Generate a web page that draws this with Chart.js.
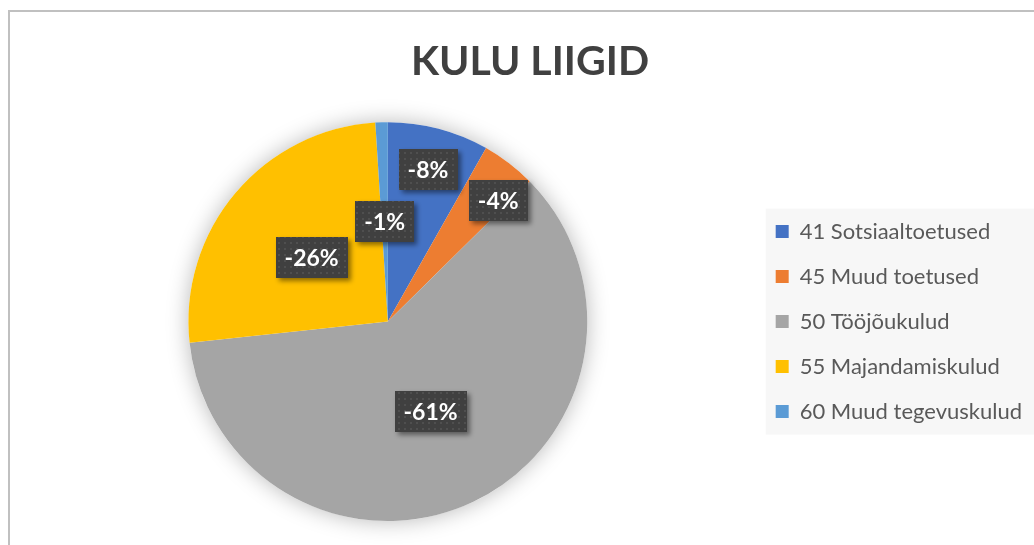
<!DOCTYPE html>
<html>
<head>
<meta charset="utf-8">
<script src="https://cdn.jsdelivr.net/npm/chart.js@4/dist/chart.umd.min.js"></script>
<style>
  body { margin: 0; background: #fff; }
  #wrap { width: 1034px; height: 545px; }
</style>
</head>
<body>
<div id="wrap"><canvas id="kuluChart" width="1034" height="545"></canvas></div>
<script>
// Data
var liigid = ["41 Sotsiaaltoetused", "45 Muud toetused", "50 Tööjõukulud", "55 Majandamiskulud", "60 Muud tegevuskulud"];
var kulud = [-8.2, -4.4, -60.7, -25.7, -1.0];
var varvid = ["#4472C4", "#ED7D31", "#A5A5A5", "#FFC000", "#5B9BD5"];

// label placement along the slice (fraction of radius, angle nudge in degrees)
var labelPos = [
  { r: 0.79, da: 0 },
  { r: 0.82, da: 5 },
  { r: 0.5, da: 0 },
  { r: 0.5, da: 0 },
  { r: 0.5, da: 0 }
];

// dotted dark fill like the excel label boxes
function makePattern() {
  var p = document.createElement("canvas");
  p.width = 6; p.height = 6;
  var c = p.getContext("2d");
  c.fillStyle = "#404040";
  c.fillRect(0, 0, 6, 6);
  c.fillStyle = "#4f4f4f";
  c.fillRect(2, 2, 2, 2);
  return p;
}

//Frame + legend background
var framePlugin = {
  id: "frame",
  afterLayout: function(chart) {
    // excel centers the title over the whole chart frame
    chart.titleBlock.left = 26;
    chart.titleBlock.right = chart.width;
  },
  beforeDraw: function(chart) {
    var ctx = chart.ctx;
    ctx.save();
    ctx.fillStyle = "#fff";
    ctx.fillRect(0, 0, chart.width, chart.height);
    ctx.strokeStyle = "#c0c0c0";
    ctx.lineWidth = 2;
    ctx.beginPath();
    ctx.moveTo(9, chart.height);
    ctx.lineTo(9, 11);
    ctx.lineTo(chart.width, 11);
    ctx.stroke();

    var boxes = chart.legend.legendHitBoxes;
    if (boxes && boxes.length) {
      var first = boxes[0], last = boxes[boxes.length - 1];
      ctx.fillStyle = "#f7f7f7";
      ctx.fillRect(first.left - 10, first.top - 12, chart.width - first.left + 10, last.top + last.height - first.top + 24);
    }
    ctx.restore();
  }
};

//Soft glow behind the pie
var glowPlugin = {
  id: "glow",
  beforeDatasetsDraw: function(chart) {
    var arc = chart.getDatasetMeta(0).data[0];
    if (!arc) return;
    var ctx = chart.ctx;
    ctx.save();
    ctx.shadowColor = "rgba(0,0,0,0.28)";
    ctx.shadowBlur = 22;
    ctx.fillStyle = "#ffffff";
    ctx.beginPath();
    ctx.arc(arc.x, arc.y, arc.outerRadius, 0, Math.PI * 2);
    ctx.fill();
    ctx.restore();
  }
};

//Percent labels in dark boxes
var labelPlugin = {
  id: "pctLabels",
  afterDatasetsDraw: function(chart) {
    var ctx = chart.ctx;
    var pattern = ctx.createPattern(makePattern(), "repeat");
    var total = kulud.reduce(function(a, b) { return a + Math.abs(b); }, 0);
    chart.getDatasetMeta(0).data.forEach(function(arc, i) {
      var mid = (arc.startAngle + arc.endAngle) / 2 + labelPos[i].da * Math.PI / 180;
      var r = arc.outerRadius * labelPos[i].r;
      var x = arc.x + Math.cos(mid) * r;
      var y = arc.y + Math.sin(mid) * r;
      var sign = kulud[i] < 0 ? "-" : "";
      var txt = sign + Math.round(Math.abs(kulud[i]) / total * 100) + "%";
      ctx.save();
      ctx.font = "bold 23px Lato";
      var w = ctx.measureText(txt).width + 18;
      var h = 41;
      ctx.shadowColor = "rgba(0,0,0,0.45)";
      ctx.shadowBlur = 5;
      ctx.shadowOffsetX = 3;
      ctx.shadowOffsetY = 3;
      ctx.fillStyle = pattern;
      ctx.fillRect(Math.round(x - w / 2), Math.round(y - h / 2), Math.round(w), h);
      ctx.shadowColor = "transparent";
      ctx.fillStyle = "#ffffff";
      ctx.textAlign = "center";
      ctx.textBaseline = "middle";
      ctx.fillText(txt, x, y + 1);
      ctx.restore();
    });
  }
};

var ctx = document.getElementById("kuluChart").getContext("2d");
var chart = new Chart(ctx, {
  type: "pie",
  data: {
    labels: liigid,
    datasets: [
      {
        data: kulud.map(function(v) { return Math.abs(v); }),
        backgroundColor: varvid,
        borderWidth: 0
      }
    ]
  },
  options: {
    responsive: false,
    animation: false,
    events: [],
    layout: {
      padding: { left: 23, right: 2, top: 0, bottom: 24 }
    },
    plugins: {
      title: {
        display: true,
        text: "KULU LIIGID",
        color: "#404040",
        font: { family: "Lato", size: 41, weight: "bold", lineHeight: 1.2 },
        padding: { top: 37, bottom: 36 }
      },
      legend: {
        position: "right",
        fullSize: false,
        labels: {
          boxWidth: 13,
          boxHeight: 13,
          padding: 23,
          color: "#595959",
          font: { family: "Lato", size: 22 }
        }
      },
      tooltip: { enabled: false }
    }
  },
  plugins: [framePlugin, glowPlugin, labelPlugin]
});
</script>
</body>
</html>
